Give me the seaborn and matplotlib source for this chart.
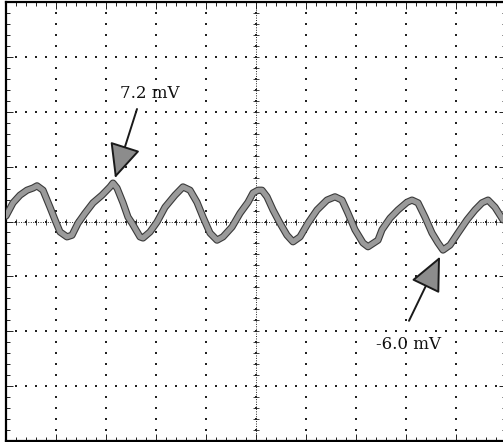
import matplotlib

matplotlib.use("Agg")
import matplotlib.patheffects as pe
import matplotlib.pyplot as plt
import numpy as np
import seaborn as sns

# time in divisions, voltage in mV (10 mV/div)
time_div = [
    0.00, 0.14, 0.28, 0.42, 0.54, 0.62, 0.74, 0.88, 0.98, 1.08, 1.22, 1.32,
    1.44, 1.58, 1.74, 1.92, 2.08, 2.14, 2.22, 2.34, 2.44, 2.52, 2.68, 2.74,
    2.88, 3.02, 3.18, 3.38, 3.54, 3.68, 3.82, 3.94, 4.08, 4.22, 4.34, 4.52,
    4.68, 4.84, 4.94, 5.04, 5.12, 5.22, 5.34, 5.48, 5.62, 5.74, 5.88, 6.04,
    6.22, 6.42, 6.58, 6.72, 6.84, 6.98, 7.14, 7.24, 7.44, 7.52, 7.68, 7.84,
    8.02, 8.12, 8.24, 8.38, 8.52, 8.64, 8.74, 8.88, 9.04, 9.22, 9.38, 9.52,
    9.64, 9.78, 9.94,
]
volt_mv = [
    1.0, 3.4, 4.8, 5.7, 6.1, 6.5, 5.7, 2.6, 0.3, -1.9, -2.8, -2.5,
    -0.3, 1.5, 3.4, 4.8, 6.3, 7.0, 6.1, 3.4, 0.8, -0.3, -2.8, -3.0,
    -1.9, -0.1, 2.6, 4.8, 6.3, 5.7, 3.5, 0.8, -2.1, -3.4, -2.8, -1.0,
    1.5, 3.5, 5.2, 5.7, 5.7, 4.5, 2.1, -0.3, -2.5, -3.7, -2.8, -0.3,
    2.1, 3.9, 4.5, 3.9, 1.5, -1.5, -3.9, -4.6, -3.4, -1.5, 0.6, 2.1,
    3.5, 3.9, 3.4, 0.8, -2.1, -3.9, -5.2, -4.3, -2.1, 0.3, 2.1, 3.4,
    3.9, 2.6, 0.3,
]

# annotations: label, text position, arrow tail, arrow tip (div, mV)
labels = ["7.2 mV", "-6.0 mV"]
label_xy = [(2.88, 23.3), (8.06, -22.4)]
tail_xy = [(2.62, 20.5), (8.06, -18.1)]
tip_xy = [(2.18, 7.9), (8.68, -6.4)]


def draw_graticule(ax):
    major_x = np.arange(0, 11, 1)
    major_y = np.arange(-40, 41, 10)
    minor_x = np.arange(0, 10.01, 0.2)
    minor_y = np.arange(-40, 40.01, 2)

    gx, gy = np.meshgrid(major_x, minor_y)
    ax.scatter(gx.ravel(), gy.ravel(), s=1.0, marker="s", color="#222222", lw=0, zorder=1)
    gx, gy = np.meshgrid(minor_x, major_y)
    ax.scatter(gx.ravel(), gy.ravel(), s=1.0, marker="s", color="#222222", lw=0, zorder=1)

    ax.axhline(0, color="#222222", lw=0.7, ls=(0, (1, 1.5)), zorder=1)
    ax.axvline(5, color="#222222", lw=0.7, ls=(0, (1, 1.5)), zorder=1)
    ax.scatter(minor_x, np.zeros_like(minor_x), marker="|", s=16, color="#222222", lw=0.6, zorder=1)
    ax.scatter(np.full_like(minor_y, 5), minor_y, marker="_", s=16, color="#222222", lw=0.6, zorder=1)

    ax.set_xticks(major_x)
    ax.set_xticks(minor_x, minor=True)
    ax.set_yticks(major_y)
    ax.set_yticks(minor_y, minor=True)
    ax.tick_params(which="both", direction="in", top=True, right=True,
                   bottom=True, left=True, labelbottom=False, labelleft=False,
                   color="#222222", width=0.7)
    ax.tick_params(which="major", length=5)
    ax.tick_params(which="minor", length=3)
    for spine in ax.spines.values():
        spine.set_color("black")
        spine.set_linewidth(1.6)


def main():
    sns.set_theme(style="white")
    plt.rcParams["font.family"] = ["DejaVu Serif"]

    fig = plt.figure(figsize=(5.03, 4.42), dpi=100)
    ax = fig.add_axes([6 / 503, 1 / 442, 500 / 503, 439 / 442])
    ax.set_xlim(0, 10)
    ax.set_ylim(-40, 40)

    draw_graticule(ax)

    line = sns.lineplot(x=time_div, y=volt_mv, ax=ax, color="#9a9a9a", lw=3.6,
                        sort=False, zorder=3)
    line.lines[-1].set_path_effects([pe.withStroke(linewidth=5.2, foreground="#3a3a3a")])

    for label, txy, axy, hxy in zip(labels, label_xy, tail_xy, tip_xy):
        ax.text(*txy, label, ha="center", va="center", fontsize=12, color="#111111", zorder=5)
        ax.annotate("", xy=hxy, xytext=axy, zorder=5,
                    arrowprops=dict(arrowstyle="-|>,head_length=1.2,head_width=0.55",
                                    mutation_scale=18, fc="#8c8c8c", ec="#1a1a1a",
                                    lw=1.4, shrinkA=0, shrinkB=0))

    ax.set_xlabel("")
    ax.set_ylabel("")
    fig.savefig("out.png", dpi=100)
    plt.close(fig)


if __name__ == "__main__":
    main()
